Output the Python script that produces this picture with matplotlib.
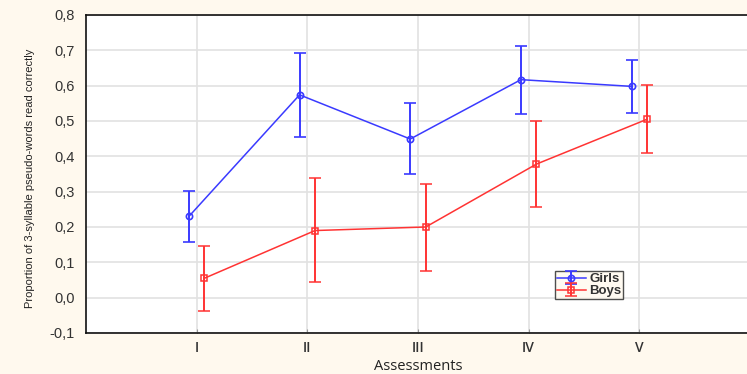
import matplotlib
matplotlib.use("Agg")
import matplotlib.pyplot as plt
import numpy as np

categories = ["I", "II", "III", "IV", "V"]
girls_mean = [0.230, 0.574, 0.449, 0.617, 0.598]
girls_low = [0.158, 0.456, 0.351, 0.520, 0.523]
girls_high = [0.302, 0.692, 0.550, 0.712, 0.674]
boys_mean = [0.055, 0.190, 0.200, 0.378, 0.505]
boys_low = [-0.037, 0.043, 0.075, 0.257, 0.410]
boys_high = [0.145, 0.339, 0.323, 0.500, 0.601]
yticks = [-0.1, 0.0, 0.1, 0.2, 0.3, 0.4, 0.5, 0.6, 0.7, 0.8]
ytick_labels = ["-0,1", "0,0", "0,1", "0,2", "0,3", "0,4", "0,5", "0,6", "0,7", "0,8"]

bg = "#FFF9EE"
fig = plt.figure(figsize=(7.47, 3.74), dpi=100, facecolor=bg)
ax = fig.add_axes([86/747, 1-333/374, (750-86)/747, (333-15)/374])
ax.set_facecolor("white")

x = np.arange(1, len(categories) + 1)
off = 0.07
gx = x - off
bx = x + off

gm = np.array(girls_mean)
bm = np.array(boys_mean)
gerr = [gm - np.array(girls_low), np.array(girls_high) - gm]
berr = [bm - np.array(boys_low), np.array(boys_high) - bm]

blue = "#3A3AFF"
red = "#FF3333"
ax.errorbar(gx, gm, yerr=gerr, color=blue, lw=1.1, elinewidth=1.4, capsize=4,
            capthick=1.4, marker="o", ms=4.5, mfc="none", mec=blue, mew=1.2,
            label="Girls", zorder=3)
ax.errorbar(bx, bm, yerr=berr, color=red, lw=1.1, elinewidth=1.4, capsize=4,
            capthick=1.4, marker="s", ms=4.5, mfc="none", mec=red, mew=1.1,
            label="Boys", zorder=3)

ax.set_xlim(0, 6)
ax.set_ylim(-0.1, 0.8)
ax.set_xticks(x)
ax.set_xticklabels(categories, fontsize=10, color="#333333", family="Open Sans",
                   fontweight="semibold")
ax.set_yticks(yticks)
ax.set_yticklabels(ytick_labels, fontsize=10.5, color="#333333", family="Liberation Sans")
ax.grid(True, color="#E2E2E2", lw=1.2)
ax.set_axisbelow(True)
ax.tick_params(axis="x", direction="in", length=3, color="#999999", pad=6)
ax.tick_params(axis="y", length=0, pad=8)

for s in ["left", "top", "bottom", "right"]:
    ax.spines[s].set_color("#111111")
    ax.spines[s].set_linewidth(1.2)

ax.set_xlabel("Assessments", fontsize=10.5, color="#222222", family="Open Sans", labelpad=3)
fig.text(30/747, 1-178/374, "Proportion of 3-syllable pseudo-words read correctly",
         rotation=90, ha="center", va="center", fontsize=8, color="#222222",
         family=["Liberation Sans Narrow", "Liberation Sans"])

leg = ax.legend(loc="upper left", bbox_to_anchor=(555/747, 1-271/374),
                bbox_transform=fig.transFigure, fontsize=9.5, frameon=True,
                fancybox=False, borderpad=0.15, handlelength=2.2, handletextpad=0.25,
                labelspacing=0.0, borderaxespad=0)
leg.get_frame().set_facecolor(bg)
leg.get_frame().set_edgecolor("#222222")
leg.get_frame().set_linewidth(1.0)
for t in leg.get_texts():
    t.set_fontweight("bold")
    t.set_color("#333333")
    t.set_family("Liberation Sans")

fig.savefig("out.png", dpi=100, facecolor=bg)
